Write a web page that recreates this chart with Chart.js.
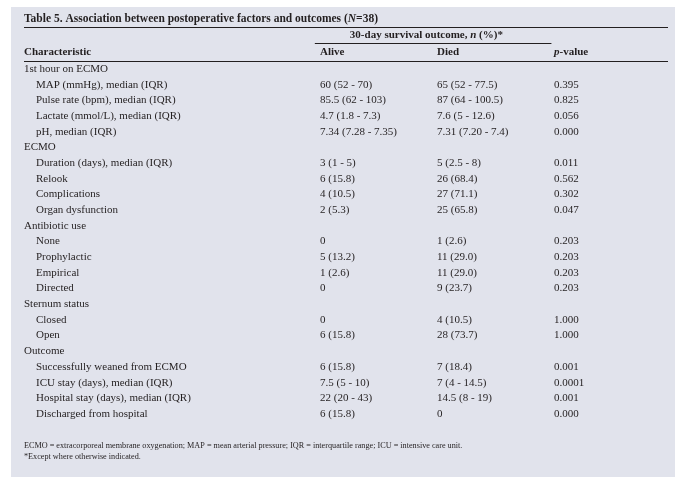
<!DOCTYPE html>
<html><head><meta charset="utf-8">
<script src="https://cdn.jsdelivr.net/npm/chart.js@4.4.1/dist/chart.umd.min.js"></script>
<style>html,body{margin:0;padding:0;background:#fff}#wrap{width:688px;height:482px}</style>
</head><body><div id="wrap"><canvas id="c" width="688" height="482"></canvas></div>
<script>
// ---- Data ----
const titleText = 'Table 5. Association between postoperative factors and outcomes (';
const spanHeader = '30-day survival outcome, ';
const columnHeaders = ['Characteristic', 'Alive', 'Died', 'p-value'];
const rowLabels = [
  '1st hour on ECMO',
  'MAP (mmHg), median (IQR)',
  'Pulse rate (bpm), median (IQR)',
  'Lactate (mmol/L), median (IQR)',
  'pH, median (IQR)',
  'ECMO',
  'Duration (days), median (IQR)',
  'Relook',
  'Complications',
  'Organ dysfunction',
  'Antibiotic use',
  'None',
  'Prophylactic',
  'Empirical',
  'Directed',
  'Sternum status',
  'Closed',
  'Open',
  'Outcome',
  'Successfully weaned from ECMO',
  'ICU stay (days), median (IQR)',
  'Hospital stay (days), median (IQR)',
  'Discharged from hospital'
];
const rowIsGroup = [1,0,0,0,0,1,0,0,0,0,1,0,0,0,0,1,0,0,1,0,0,0,0];
const aliveValues = ['', '60 (52 - 70)', '85.5 (62 - 103)', '4.7 (1.8 - 7.3)', '7.34 (7.28 - 7.35)',
  '', '3 (1 - 5)', '6 (15.8)', '4 (10.5)', '2 (5.3)',
  '', '0', '5 (13.2)', '1 (2.6)', '0',
  '', '0', '6 (15.8)',
  '', '6 (15.8)', '7.5 (5 - 10)', '22 (20 - 43)', '6 (15.8)'];
const diedValues = ['', '65 (52 - 77.5)', '87 (64 - 100.5)', '7.6 (5 - 12.6)', '7.31 (7.20 - 7.4)',
  '', '5 (2.5 - 8)', '26 (68.4)', '27 (71.1)', '25 (65.8)',
  '', '1 (2.6)', '11 (29.0)', '11 (29.0)', '9 (23.7)',
  '', '4 (10.5)', '28 (73.7)',
  '', '7 (18.4)', '7 (4 - 14.5)', '14.5 (8 - 19)', '0'];
const pValues = ['', '0.395', '0.825', '0.056', '0.000',
  '', '0.011', '0.562', '0.302', '0.047',
  '', '0.203', '0.203', '0.203', '0.203',
  '', '1.000', '1.000',
  '', '0.001', '0.0001', '0.001', '0.000'];
const footnotes = [
  'ECMO = extracorporeal membrane oxygenation; MAP = mean arterial pressure; IQR = interquartile range; ICU = intensive care unit.',
  '*Except where otherwise indicated.'
];

// ---- Layout / style (percent of table width on x axis) ----
const colPos = { label: 0, indent: 1.86, alive: 45.96, died: 64.13, p: 82.3 };
const ink = '#231f20';
const panelColor = '#e1e3ec';
const serif = '"Liberation Serif", "Times New Roman", serif';

function pts(pos) { return rowLabels.map((_, i) => ({ x: pos, y: i })); }

const tablePlugin = {
  id: 'tableText',
  beforeDraw(chart) {
    const ctx = chart.ctx;
    ctx.save();
    ctx.fillStyle = panelColor;
    ctx.fillRect(11, 7, 664, 470);
    ctx.restore();
  },
  afterDatasetsDraw(chart) {
    const ctx = chart.ctx;
    const xs = chart.scales.x, ys = chart.scales.y;
    const L = xs.getPixelForValue(0), R = xs.getPixelForValue(100);
    const top = ys.getPixelForValue(0), bot = ys.getPixelForValue(rowLabels.length - 1);
    ctx.save();
    ctx.fillStyle = ink;
    ctx.strokeStyle = ink;
    ctx.textBaseline = 'middle';
    ctx.textAlign = 'left';
    const hline = (x1, x2, y) => { ctx.lineWidth = 1; ctx.beginPath(); ctx.moveTo(x1, Math.round(y) + 0.5); ctx.lineTo(x2, Math.round(y) + 0.5); ctx.stroke(); };

    // title
    ctx.font = 'bold 11.5px ' + serif;
    let y = top - 50;
    ctx.fillText(titleText, L, y);
    let w = ctx.measureText(titleText).width;
    ctx.font = 'bold italic 11.5px ' + serif;
    ctx.fillText('N', L + w, y);
    w += ctx.measureText('N').width;
    ctx.font = 'bold 11.5px ' + serif;
    ctx.fillText('=38)', L + w, y);
    hline(L, R, top - 42);

    // spanning header
    const sx1 = xs.getPixelForValue(colPos.alive - 0.8), sx2 = xs.getPixelForValue(colPos.p - 0.4);
    ctx.font = 'bold 11px ' + serif;
    y = top - 33.5;
    let sx = xs.getPixelForValue(50.6);
    ctx.fillText(spanHeader, sx, y);
    let sw = ctx.measureText(spanHeader).width;
    ctx.font = 'bold italic 11px ' + serif;
    ctx.fillText('n', sx + sw, y);
    sw += ctx.measureText('n').width;
    ctx.font = 'bold 11px ' + serif;
    ctx.fillText(' (%)*', sx + sw, y);
    hline(sx1, sx2, top - 26);

    // column headers
    y = top - 16.5;
    ctx.fillText(columnHeaders[0], xs.getPixelForValue(colPos.label), y);
    ctx.fillText(columnHeaders[1], xs.getPixelForValue(colPos.alive), y);
    ctx.fillText(columnHeaders[2], xs.getPixelForValue(colPos.died), y);
    const px = xs.getPixelForValue(colPos.p);
    ctx.font = 'bold italic 11px ' + serif;
    ctx.fillText('p', px, y);
    const pw = ctx.measureText('p').width;
    ctx.font = 'bold 11px ' + serif;
    ctx.fillText(columnHeaders[3].slice(1), px + pw, y);
    hline(L, R, top - 8);

    // body
    ctx.font = '11px ' + serif;
    chart.getDatasetMeta(0).data.forEach((el, i) => {
      const x = rowIsGroup[i] ? L : el.x;
      ctx.fillText(rowLabels[i], x, el.y);
    });
    [[1, aliveValues], [2, diedValues], [3, pValues]].forEach(([di, vals]) => {
      chart.getDatasetMeta(di).data.forEach((el, i) => {
        if (vals[i]) ctx.fillText(vals[i], el.x, el.y);
      });
    });

    // footnotes
    ctx.font = '8.2px ' + serif;
    ctx.fillText(footnotes[0], L, bot + 31.5);
    ctx.fillText(footnotes[1], L, bot + 42.5);
    ctx.restore();
  }
};

new Chart(document.getElementById('c'), {
  type: 'scatter',
  data: {
    labels: rowLabels,
    datasets: [
      { label: columnHeaders[0], data: pts(colPos.indent), pointRadius: 0 },
      { label: columnHeaders[1], data: pts(colPos.alive), pointRadius: 0 },
      { label: columnHeaders[2], data: pts(colPos.died), pointRadius: 0 },
      { label: columnHeaders[3], data: pts(colPos.p), pointRadius: 0 }
    ]
  },
  options: {
    responsive: false,
    animation: false,
    devicePixelRatio: 1,
    layout: { padding: { left: 24, right: 20, top: 69, bottom: 68 } },
    plugins: { legend: { display: false }, tooltip: { enabled: false } },
    scales: {
      x: { type: 'linear', min: 0, max: 100, display: false },
      y: { type: 'category', labels: rowLabels, offset: false, display: false }
    }
  },
  plugins: [tablePlugin]
});
</script>
</body></html>
